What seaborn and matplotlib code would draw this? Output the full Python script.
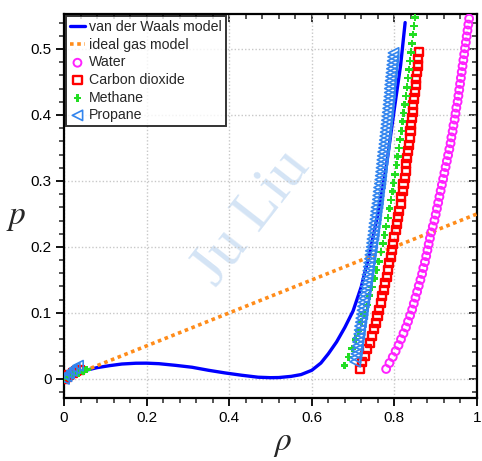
import numpy as np
import pandas as pd
import matplotlib
matplotlib.use("Agg")
import matplotlib.pyplot as plt
from matplotlib.ticker import MultipleLocator
import seaborn as sns

# ---------------- data ----------------
vdw_rho = [0.0, 0.02, 0.05, 0.08, 0.11, 0.14, 0.174, 0.20, 0.23, 0.27, 0.31, 0.35, 0.39,
           0.43, 0.47, 0.50, 0.52, 0.55, 0.574, 0.60, 0.622, 0.64, 0.66, 0.68, 0.70,
           0.72, 0.74, 0.76, 0.78, 0.80, 0.815, 0.826]
vdw_p = [0.0, 0.005, 0.0125, 0.017, 0.020, 0.0225, 0.0237, 0.0238, 0.023, 0.0205, 0.0176, 0.013, 0.009,
         0.0055, 0.0025, 0.0018, 0.002, 0.0038, 0.0065, 0.013, 0.024, 0.038, 0.056, 0.078, 0.103,
         0.14, 0.19, 0.25, 0.32, 0.41, 0.475, 0.540]

ideal_rho = [0.0, 1.0]
ideal_p = [0.0, 0.25]

water_gas_rho = [0.0, 0.007, 0.015, 0.022, 0.030]
water_gas_p = [0.0, 0.003, 0.006, 0.009, 0.012]
water_liq_p = [0.015, 0.024, 0.033, 0.042, 0.051, 0.060, 0.069, 0.078, 0.087, 0.096,
               0.105, 0.114, 0.123, 0.132, 0.141, 0.150, 0.159, 0.168, 0.177, 0.186,
               0.195, 0.204, 0.213, 0.222, 0.231, 0.240, 0.249, 0.258, 0.267, 0.276,
               0.285, 0.294, 0.303, 0.312, 0.321, 0.330, 0.339, 0.348, 0.357, 0.366,
               0.375, 0.384, 0.393, 0.402, 0.411, 0.420, 0.429, 0.438, 0.447, 0.456,
               0.465, 0.474, 0.483, 0.492, 0.501, 0.510, 0.519, 0.528, 0.537, 0.546]
water_liq_rho = [0.780, 0.788, 0.796, 0.803, 0.810, 0.816, 0.822, 0.828, 0.833, 0.838,
                 0.843, 0.847, 0.851, 0.855, 0.859, 0.863, 0.867, 0.870, 0.874, 0.877,
                 0.880, 0.883, 0.886, 0.889, 0.893, 0.897, 0.900, 0.903, 0.906, 0.909,
                 0.912, 0.915, 0.918, 0.921, 0.924, 0.927, 0.930, 0.933, 0.936, 0.938,
                 0.941, 0.943, 0.946, 0.948, 0.950, 0.953, 0.955, 0.957, 0.959, 0.961,
                 0.963, 0.965, 0.967, 0.969, 0.971, 0.973, 0.975, 0.977, 0.979, 0.981]

co2_gas_rho = [0.0, 0.006, 0.013, 0.021, 0.030, 0.038]
co2_gas_p = [0.0, 0.003, 0.006, 0.009, 0.012, 0.014]
co2_liq_p = [0.015, 0.025, 0.035, 0.045, 0.055, 0.065, 0.075, 0.085, 0.095, 0.105,
             0.115, 0.125, 0.135, 0.145, 0.155, 0.165, 0.175, 0.185, 0.195, 0.205,
             0.215, 0.225, 0.235, 0.245, 0.255, 0.265, 0.275, 0.285, 0.295, 0.305,
             0.315, 0.325, 0.335, 0.345, 0.355, 0.365, 0.375, 0.385, 0.395, 0.405,
             0.415, 0.425, 0.435, 0.445, 0.455, 0.465, 0.475, 0.485, 0.495]
co2_liq_rho = [0.716, 0.722, 0.728, 0.734, 0.740, 0.745, 0.750, 0.755, 0.759, 0.763,
               0.767, 0.771, 0.775, 0.778, 0.782, 0.785, 0.788, 0.791, 0.794, 0.797,
               0.800, 0.803, 0.806, 0.809, 0.812, 0.815, 0.817, 0.820, 0.822, 0.825,
               0.827, 0.829, 0.831, 0.833, 0.835, 0.837, 0.839, 0.841, 0.843, 0.845,
               0.846, 0.848, 0.850, 0.852, 0.853, 0.855, 0.857, 0.858, 0.860]

methane_gas_rho = [0.0, 0.011, 0.023, 0.035, 0.047, 0.055]
methane_gas_p = [0.0, 0.003, 0.006, 0.009, 0.012, 0.014]
methane_liq_p = [0.020, 0.033, 0.046, 0.060, 0.073, 0.086, 0.099, 0.112, 0.126, 0.139,
                 0.152, 0.165, 0.178, 0.192, 0.205, 0.218, 0.231, 0.244, 0.258, 0.271,
                 0.284, 0.297, 0.310, 0.324, 0.337, 0.350, 0.363, 0.376, 0.390, 0.403,
                 0.416, 0.429, 0.442, 0.456, 0.469, 0.482, 0.495, 0.508, 0.522, 0.535, 0.548]
methane_liq_rho = [0.679, 0.689, 0.698, 0.706, 0.713, 0.720, 0.727, 0.734, 0.740, 0.746,
                   0.752, 0.757, 0.762, 0.767, 0.772, 0.776, 0.780, 0.784, 0.788, 0.792,
                   0.795, 0.798, 0.802, 0.805, 0.808, 0.811, 0.814, 0.817, 0.820, 0.822,
                   0.825, 0.828, 0.830, 0.833, 0.835, 0.838, 0.840, 0.843, 0.845, 0.848, 0.850]

propane_gas_rho = [0.0, 0.006, 0.012, 0.019, 0.026, 0.034]
propane_gas_p = [0.0, 0.004, 0.008, 0.012, 0.016, 0.020]
propane_liq_p = [0.026, 0.032, 0.038, 0.044, 0.050, 0.056, 0.062, 0.068, 0.074, 0.080,
                 0.086, 0.092, 0.098, 0.104, 0.110, 0.116, 0.122, 0.128, 0.134, 0.140,
                 0.146, 0.152, 0.158, 0.164, 0.170, 0.176, 0.182, 0.188, 0.194, 0.200,
                 0.206, 0.212, 0.218, 0.224, 0.230, 0.236, 0.242, 0.248, 0.254, 0.260,
                 0.266, 0.272, 0.278, 0.284, 0.290, 0.296, 0.302, 0.308, 0.314, 0.320,
                 0.326, 0.332, 0.338, 0.344, 0.350, 0.356, 0.362, 0.368, 0.374, 0.380,
                 0.386, 0.392, 0.398, 0.404, 0.410, 0.416, 0.422, 0.428, 0.434, 0.440,
                 0.446, 0.452, 0.458, 0.464, 0.470, 0.476, 0.482, 0.488, 0.494]
propane_liq_rho = [0.705, 0.706, 0.708, 0.709, 0.711, 0.712, 0.713, 0.715, 0.716, 0.717,
                   0.719, 0.720, 0.722, 0.723, 0.724, 0.726, 0.727, 0.728, 0.730, 0.731,
                   0.733, 0.734, 0.735, 0.737, 0.738, 0.739, 0.741, 0.742, 0.743, 0.745,
                   0.746, 0.747, 0.749, 0.750, 0.751, 0.752, 0.754, 0.755, 0.756, 0.757,
                   0.759, 0.760, 0.761, 0.762, 0.763, 0.765, 0.766, 0.767, 0.768, 0.769,
                   0.770, 0.771, 0.772, 0.773, 0.775, 0.776, 0.777, 0.778, 0.779, 0.780,
                   0.781, 0.782, 0.783, 0.784, 0.785, 0.786, 0.787, 0.788, 0.789, 0.789,
                   0.790, 0.791, 0.792, 0.793, 0.794, 0.795, 0.796, 0.797, 0.798]

labels = ["van der Waals model", "ideal gas model", "Water", "Carbon dioxide", "Methane", "Propane"]
x_ticks = [0, 0.2, 0.4, 0.6, 0.8, 1]
x_ticklabels = ["0", "0.2", "0.4", "0.6", "0.8", "1"]
y_ticks = [0, 0.1, 0.2, 0.3, 0.4, 0.5]
y_ticklabels = ["0", "0.1", "0.2", "0.3", "0.4", "0.5"]

# ---------------- style ----------------
sns.set_theme(style="white")
plt.rcParams["font.family"] = ["Liberation Sans", "DejaVu Sans"]
plt.rcParams["mathtext.fontset"] = "stix"

fig = plt.figure(figsize=(4.82, 4.61), dpi=100)
ax = fig.add_axes([64 / 482, 1 - 398 / 461, 413 / 482, 384 / 461])

ax.text(0.455, 0.47, "Ju Liu", transform=ax.transAxes, fontsize=44,
        family=["Liberation Serif", "DejaVu Serif"], color="#c6dbf2", alpha=0.75,
        rotation=52, ha="center", va="center", zorder=0.5)

sns.lineplot(x=vdw_rho, y=vdw_p, ax=ax, color="#0000ff", lw=2.4, sort=False,
             estimator=None, label=labels[0], zorder=3)
sns.lineplot(x=ideal_rho, y=ideal_p, ax=ax, color="#ff8c1a", lw=2.6, sort=False,
             estimator=None, label=labels[1], zorder=3)
ax.lines[-1].set_linestyle((0, (1, 1)))

series = [
    (water_gas_rho + water_liq_rho, water_gas_p + water_liq_p, "o", "#ff22ff", 32, 1.4, False),
    (co2_gas_rho + co2_liq_rho, co2_gas_p + co2_liq_p, "s", "#ff0000", 34, 1.7, False),
    (methane_gas_rho + methane_liq_rho, methane_gas_p + methane_liq_p, "P", "#22dd22", 30, 0.0, True),
    (propane_gas_rho + propane_liq_rho, propane_gas_p + propane_liq_p, "<", "#3385ee", 55, 1.2, False),
]
for (xs, ys, m, c, s, lw, filled), lab in zip(series, labels[2:]):
    if filled:
        sns.scatterplot(x=xs, y=ys, ax=ax, marker=m, color=c, s=s, linewidth=0,
                        edgecolor="none", label=lab, zorder=4)
    else:
        sns.scatterplot(x=xs, y=ys, ax=ax, marker=m, facecolor="none", edgecolor=c,
                        color=c, s=s, linewidth=lw, label=lab, zorder=4)

ax.set_xlim(0, 1)
ax.set_ylim(-0.029, 0.553)
ax.set_xticks(x_ticks)
ax.set_xticklabels(x_ticklabels)
ax.set_yticks(y_ticks)
ax.set_yticklabels(y_ticklabels)
ax.xaxis.set_minor_locator(MultipleLocator(0.04))
ax.yaxis.set_minor_locator(MultipleLocator(0.02))
ax.tick_params(axis="both", which="major", direction="out", length=6, width=1.3,
               labelsize=11, colors="black", bottom=True, left=True, pad=3)
ax.tick_params(axis="both", which="minor", direction="out", length=3.5, width=1.1,
               bottom=True, left=True)
ax.grid(True, which="major", color="#c8c8c8", linestyle=(0, (1, 1.5)), linewidth=1.0)
for sp in ax.spines.values():
    sp.set_linewidth(1.6)
    sp.set_color("black")

# inward ticks on top and right
sx = ax.secondary_xaxis("top")
sx.set_xticks(x_ticks)
sx.xaxis.set_minor_locator(MultipleLocator(0.04))
sx.tick_params(which="major", direction="in", length=6, width=1.3, labeltop=False)
sx.tick_params(which="minor", direction="in", length=3.5, width=1.1)
sx.set_xticklabels([])
sy = ax.secondary_yaxis("right")
sy.set_yticks(y_ticks)
sy.yaxis.set_minor_locator(MultipleLocator(0.02))
sy.tick_params(which="major", direction="in", length=6, width=1.3, labelright=False)
sy.tick_params(which="minor", direction="in", length=3.5, width=1.1)
sy.set_yticklabels([])

ax.set_xlabel(r"$\rho$", fontsize=24, va="center", ha="center")
ax.xaxis.set_label_coords(0.528, -0.118)
ax.set_ylabel(r"$p$", fontsize=24, rotation=0, va="center", ha="center")
ax.yaxis.set_label_coords(-0.115, 0.47)

leg = ax.legend(loc="upper left", fontsize=10.2, frameon=True, fancybox=False,
                borderpad=0.3, labelspacing=0.25, handlelength=1.0, handletextpad=0.3,
                borderaxespad=0.15, markerscale=1.0)
leg.get_frame().set_edgecolor("black")
leg.get_frame().set_linewidth(1.4)
leg.set_zorder(10)

fig.savefig("out.png", dpi=100)
